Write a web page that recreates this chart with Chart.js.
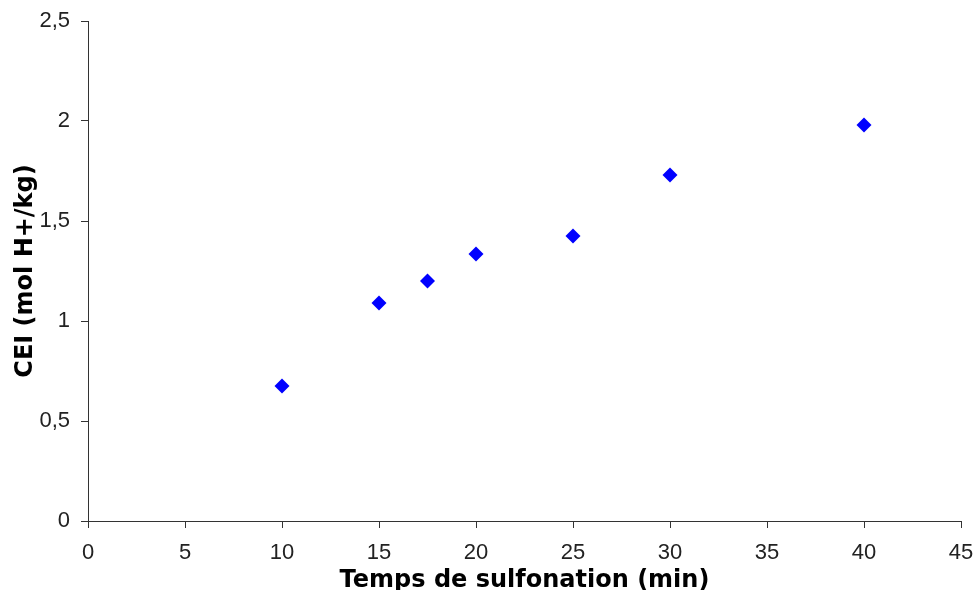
<!DOCTYPE html>
<html>
<head>
<meta charset="utf-8">
<script src="https://cdn.jsdelivr.net/npm/chart.js@4/dist/chart.umd.min.js"></script>
<style>
  html, body { margin: 0; padding: 0; background: #fff; }
  #wrap { width: 974px; height: 590px; }
</style>
</head>
<body>
<div id="wrap"><canvas id="c" width="974" height="590"></canvas></div>
<script>
const sulfonationTimes = [10, 15, 17.5, 20, 25, 30, 40];
const ceiValues = [0.675, 1.09, 1.20, 1.335, 1.425, 1.73, 1.98];
const xTitle = 'Temps de sulfonation (min)';
const yTitle = 'CEI (mol H+/kg)';

const points = sulfonationTimes.map((t, i) => ({ x: t, y: ceiValues[i] }));
const fmt = v => String(v).replace('.', ',');
const tickFont = { family: "'Liberation Sans', Arial, sans-serif", size: 22 };
const titleFont = { family: "'DejaVu Sans', Verdana, sans-serif", weight: 'bold', size: 24 };

new Chart(document.getElementById('c'), {
  type: 'scatter',
  data: {
    datasets: [{
      data: points,
      pointStyle: 'rectRot',
      pointRadius: 7.5,
      pointHoverRadius: 7.5,
      backgroundColor: '#0000ff',
      borderColor: '#0000ff',
      borderWidth: 0
    }]
  },
  options: {
    responsive: false,
    animation: false,
    layout: { padding: { top: 21, right: 13, left: 0, bottom: 0 } },
    plugins: { legend: { display: false }, tooltip: { enabled: false } },
    scales: {
      x: {
        type: 'linear', min: 0, max: 45,
        ticks: { stepSize: 5, color: '#222', font: tickFont, padding: 12, maxRotation: 0, callback: v => fmt(v) },
        grid: { drawOnChartArea: false, drawTicks: true, tickLength: 7, color: '#333' },
        border: { display: true, color: '#333', width: 1 },
        title: { display: true, text: xTitle, color: '#000', font: Object.assign({}, titleFont, { lineHeight: 0.75 }), padding: 0 },
        afterFit: s => { s.height = 69; s.paddingLeft = 0; s.paddingRight = 0; }
      },
      y: {
        type: 'linear', min: 0, max: 2.5,
        ticks: { stepSize: 0.5, color: '#222', font: tickFont, padding: 11, callback: v => fmt(v) },
        grid: { drawOnChartArea: false, drawTicks: true, tickLength: 7, color: '#333' },
        border: { display: true, color: '#333', width: 1 },
        title: { display: true, text: yTitle, color: '#000', font: titleFont, padding: { top: 11, bottom: 0 } },
        afterFit: s => { s.width = 88; s.paddingTop = 0; s.paddingBottom = 0; }
      }
    }
  }
});
</script>
</body>
</html>
